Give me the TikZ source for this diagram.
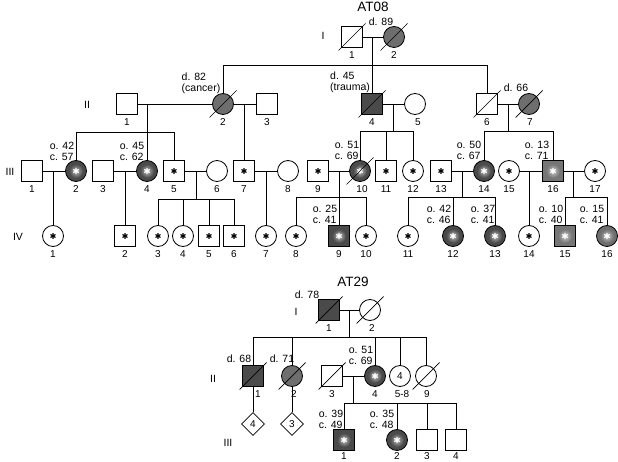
\documentclass[tikz,border=0pt]{standalone}
\usepackage{fontspec}
\setmainfont{Liberation Sans}
\usetikzlibrary{shapes.geometric,calc}
\definecolor{dkc}{HTML}{4A4A4A}
\definecolor{mdc}{HTML}{6E6E6E}
\definecolor{ltc}{HTML}{767676}
\newcommand\dead[1]{\draw[line width=0.7pt] (#1.center) +(-13.5,13.5) -- +(13.5,-13.5);}
\newcommand\aff[2]{\shade[inner color=#2!40!white, outer color=#2] (#1.center) circle (7);
  \draw[white, line width=1.2pt] (#1.center) +(0,-3.2) -- +(0,3.2) (#1.center) +(-2.8,-1.6) -- +(2.8,1.6) (#1.center) +(-2.8,1.6) -- +(2.8,-1.6);}
\newcommand\starB[1]{\draw[black, line width=1.1pt] (#1.center) +(0,-2.9) -- +(0,2.9) (#1.center) +(-2.5,-1.45) -- +(2.5,1.45) (#1.center) +(-2.5,1.45) -- +(2.5,-1.45);}
\begin{document}
\begin{tikzpicture}[x=1pt,y=-1pt,line width=0.75pt,label distance=0pt,
  M/.style={rectangle, draw, minimum size=21pt, inner sep=0pt, line width=0.8pt, fill=white},
  F/.style={circle, draw, minimum size=21pt, inner sep=0pt, line width=0.8pt, fill=white},
  DI/.style={diamond, draw, minimum width=23pt, minimum height=23pt, inner sep=0pt, line width=0.8pt, fill=white, font=\fontsize{10}{12}\selectfont},
  every label/.append style={font=\fontsize{10}{12}\selectfont},
  ann/.style={align=left, font=\fontsize{10.5}{11}\selectfont, inner sep=0pt},
  gen/.style={font=\fontsize{10.5}{12}\selectfont, inner sep=0pt},
  ttl/.style={font=\fontsize{13.5}{15}\selectfont, inner sep=0pt}]
\useasboundingbox (0,0) rectangle (618,462);
% ================= AT08 =================
\node[ttl] (t1) at (373,7) {AT08};
\node[gen] (g1) at (323,36) {I};
\node[gen] (g2) at (87,105) {II};
\node[gen] (g3) at (10,172) {III};
\node[gen] (g4) at (18,237) {IV};
% generation I
\node[M, label=below:1] (a11) at (352,37) {};
\node[F, fill=mdc, label=below:2] (a12) at (394,37) {};
\node[ann] (a12t) at (381,21.5) {d. 89};
% generation II
\node[M, label=below:1] (a21) at (127,104) {};
\node[F, fill=mdc, label=below:2] (a22) at (223,104) {};
\node[M, label=below:3] (a23) at (267,104) {};
\node[M, fill=dkc, label=below:4] (a24) at (372,104) {};
\node[F, label={[xshift=3pt]below:5}] (a25) at (415,104) {};
\node[M, label=below:6] (a26) at (487,104) {};
\node[F, fill=mdc, label={[xshift=1pt]below:7}] (a27) at (529,104) {};
\node[ann] (a22t) at (201,83) {d. 82\\(cancer)};
\node[ann] (a24t) at (350,82) {d. 45\\(trauma)};
\node[ann] (a27t) at (516,88) {d. 66};
% generation III
\node[M, label=below:1] (a31) at (32,171) {};
\node[F, fill=dkc, label=below:2] (a32) at (76,171) {};
\node[M, label=below:3] (a33) at (103,171) {};
\node[F, fill=dkc, label=below:4] (a34) at (147,171) {};
\node[M, label=below:5] (a35) at (174,171) {};
\node[F, label=below:6] (a36) at (217,171) {};
\node[M, label=below:7] (a37) at (244,171) {};
\node[F, label=below:8] (a38) at (288,171) {};
\node[M, label=below:9] (a39) at (318,171) {};
\node[F, fill=dkc, label={[xshift=2pt]below:10}] (a310) at (360,171) {};
\node[M, label=below:11] (a311) at (386,171) {};
\node[F, label=below:12] (a312) at (413,171) {};
\node[M, label=below:13] (a313) at (441,171) {};
\node[F, fill=dkc, label=below:14] (a314) at (484,171) {};
\node[F, label=below:15] (a315) at (509,171) {};
\node[M, fill=ltc, label=below:16] (a316) at (553,171) {};
\node[F, label=below:17] (a317) at (595,171) {};
\node[ann] (a32t) at (62,151) {o. 42\\c. 57};
\node[ann] (a34t) at (132,151) {o. 45\\c. 62};
\node[ann] (a310t) at (347,150) {o. 51\\c. 69};
\node[ann] (a314t) at (469,150) {o. 50\\c. 67};
\node[ann] (a316t) at (537,150) {o. 13\\c. 71};
% generation IV
\node[F, label=below:1] (a41) at (53,236) {};
\node[M, label=below:2] (a42) at (125,236) {};
\node[F, label=below:3] (a43) at (158,236) {};
\node[F, label=below:4] (a44) at (183,236) {};
\node[M, label=below:5] (a45) at (209,236) {};
\node[M, label=below:6] (a46) at (234,236) {};
\node[F, label=below:7] (a47) at (266,236) {};
\node[F, label=below:8] (a48) at (296,236) {};
\node[M, fill=dkc, label=below:9] (a49) at (339,236) {};
\node[F, label=below:10] (a410) at (366,236) {};
\node[F, label=below:11] (a411) at (408,236) {};
\node[F, fill=dkc, label=below:12] (a412) at (453,236) {};
\node[F, fill=dkc, label=below:13] (a413) at (495,236) {};
\node[F, label=below:14] (a414) at (529,236) {};
\node[M, fill=ltc, label=below:15] (a415) at (565,236) {};
\node[F, fill=mdc, label=below:16] (a416) at (607,236) {};
\node[ann] (a49t) at (325,214) {o. 25\\c. 41};
\node[ann] (a412t) at (439,214) {o. 42\\c. 46};
\node[ann] (a413t) at (483,214) {o. 37\\c. 41};
\node[ann] (a415t) at (551,214) {o. 10\\c. 40};
\node[ann] (a416t) at (592,214) {o. 15\\c. 41};
% connectors AT08
\draw (a11) -- (a12);
\coordinate (c1) at (372,37);
\draw (c1) -- ++(0,28) coordinate (s1);
\draw (s1) -| (a22); \draw (s1) -- (a24); \draw (s1) -| (a26);
\draw (a21) -- (a22);
\coordinate (c2) at (147,104);
\draw (c2) -- ++(0,28) coordinate (s2);
\draw (s2) -| (a32); \draw (s2) -- (a34); \draw (s2) -| (a35);
\draw (a22) -- (a23);
\coordinate (c3) at (244,104);
\draw (c3) -- (a37);
\draw (a24) -- (a25);
\coordinate (c4) at (393,104);
\draw (c4) -- ++(0,27) coordinate (s4);
\draw (s4) -| (a310); \draw (s4) -| (a311); \draw (s4) -| (a312);
\draw (a26) -- (a27);
\coordinate (c5) at (508,104);
\draw (c5) -- ++(0,27) coordinate (s5);
\draw (s5) -| (a314); \draw (s5) -| (a316);
\draw (a31) -- (a32);
\coordinate (c6) at (53,171);
\draw (c6) -- (a41);
\draw (a33) -- (a34);
\coordinate (c7) at (125,171);
\draw (c7) -- (a42);
\draw (a35) -- (a36);
\coordinate (c8) at (196,171);
\draw (c8) -- ++(0,28) coordinate (s8);
\draw (s8) -| (a43); \draw (s8) -| (a44); \draw (s8) -| (a45); \draw (s8) -| (a46);
\draw (a37) -- (a38);
\coordinate (c9) at (266,171);
\draw (c9) -- (a47);
\draw (a39) -- (a310);
\coordinate (c10) at (339,171);
\draw (c10) -- ++(0,26) coordinate (s10);
\draw (s10) -| (a48); \draw (s10) -- (a49); \draw (s10) -| (a410);
\draw (a313) -- (a314);
\coordinate (c11) at (462,171);
\draw (c11) -- ++(0,26) coordinate (s11);
\draw (s11) -| (a411); \draw (s11) -| (a412); \draw (s11) -| (a413);
\draw (a315) -- (a316);
\coordinate (c12) at (529,171);
\draw (c12) -- (a414);
\draw (a316) -- (a317);
\coordinate (c13) at (573,171);
\draw (c13) -- ++(0,26) coordinate (s13);
\draw (s13) -| (a415); \draw (s13) -| (a416);
% marks AT08
\dead{a11} \dead{a12} \dead{a22} \dead{a24} \dead{a26} \dead{a27}
\aff{a32}{dkc} \aff{a34}{dkc} \aff{a310}{dkc} \aff{a314}{dkc} \aff{a316}{ltc}
\aff{a49}{dkc} \aff{a412}{dkc} \aff{a413}{dkc} \aff{a415}{ltc} \aff{a416}{mdc}
\dead{a310}
\starB{a35} \starB{a37} \starB{a39} \starB{a311} \starB{a312} \starB{a313} \starB{a315} \starB{a317}
\starB{a41} \starB{a42} \starB{a43} \starB{a44} \starB{a45} \starB{a46} \starB{a47} \starB{a48}
\starB{a410} \starB{a411} \starB{a414}
% ================= AT29 =================
\node[ttl] (t2) at (353,282) {AT29};
\node[gen] (h1) at (296,312) {I};
\node[gen] (h2) at (213,379) {II};
\node[gen] (h3) at (228,443) {III};
\node[M, fill=dkc, label=below:1] (b11) at (329,310) {};
\node[F, label={[xshift=2pt]below:2}] (b12) at (370,310) {};
\node[ann] (b11t) at (307,295) {d. 78};
\node[M, fill=dkc, label={[xshift=5pt]below:1}] (b21) at (253,376) {};
\node[F, fill=mdc, label={[xshift=2pt]below:2}] (b22) at (292,376) {};
\node[M, label=below:3] (b23) at (332,376) {};
\node[F, fill=dkc, label=below:4] (b24) at (375,376) {};
\node[F, font=\fontsize{10}{12}\selectfont, label={[xshift=2pt]below:5-8}] (b25) at (400,376) {4};
\node[F, label={[xshift=1pt]below:9}] (b29) at (426,376) {};
\node[ann] (b21t) at (239,359) {d. 68};
\node[ann] (b22t) at (282,359) {d. 71};
\node[ann] (b24t) at (361,355) {o. 51\\c. 69};
\node[DI] (bd4) at (253,424) {4};
\node[DI] (bd3) at (292,424) {3};
\node[M, fill=dkc, label={[inner sep=1pt]below:1}] (b31) at (344,440) {};
\node[F, fill=dkc, label={[inner sep=1pt]below:2}] (b32) at (397,440) {};
\node[M, label={[inner sep=1pt]below:3}] (b33) at (427,440) {};
\node[M, label={[inner sep=1pt]below:4}] (b34) at (456,440) {};
\node[ann] (b31t) at (331,419) {o. 39\\c. 49};
\node[ann] (b32t) at (382,419) {o. 35\\c. 48};
% connectors AT29
\draw (b11) -- (b12);
\coordinate (e1) at (349,310);
\draw (e1) -- ++(0,27) coordinate (f1);
\draw (f1) -| (b21); \draw (f1) -| (b22); \draw (f1) -| (b24); \draw (f1) -| (b25); \draw (f1) -| (b29);
\draw (b21) -- (bd4);
\draw (b22) -- (bd3);
\draw (b23) -- (b24);
\coordinate (e2) at (353,376);
\draw (e2) -- ++(0,27) coordinate (f2);
\draw (f2) -| (b31); \draw (f2) -| (b32); \draw (f2) -| (b33); \draw (f2) -| (b34);
% marks AT29
\dead{b11} \dead{b12} \dead{b21} \dead{b22} \dead{b23} \dead{b29}
\aff{b24}{dkc} \aff{b31}{dkc} \aff{b32}{dkc}
\end{tikzpicture}
\end{document}
